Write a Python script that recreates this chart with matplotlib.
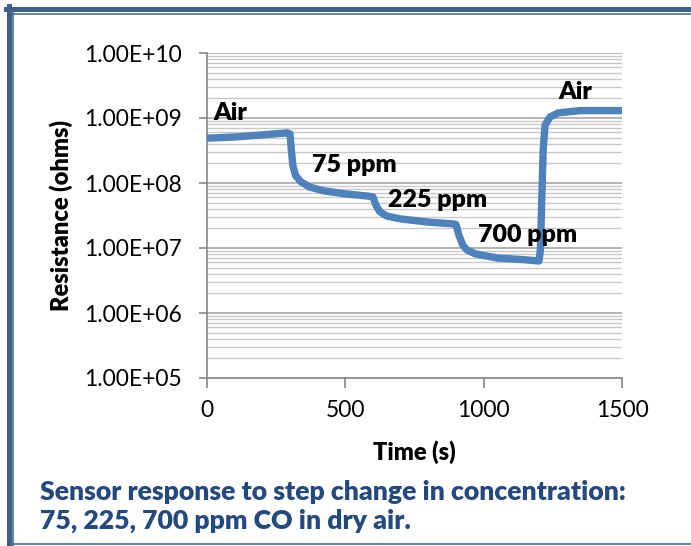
import matplotlib.pyplot as plt
import numpy as np
from matplotlib.lines import Line2D
from matplotlib.ticker import FuncFormatter, LogLocator

plt.rcParams['font.family'] = ['Lato', 'DejaVu Sans']

# Lecture du graphique (temps en s, resistance en ohms)
time_s = [0, 100, 200, 290, 300, 305, 310, 320, 340, 370, 420, 500, 580, 600,
          610, 625, 650, 700, 800, 890, 900, 910, 925, 940, 970, 1050, 1150,
          1200, 1205, 1210, 1215, 1222, 1240, 1270, 1350, 1500]
resistance = [4.9e8, 5.1e8, 5.5e8, 5.9e8, 5.7e8, 3.2e8, 1.9e8, 1.3e8, 1.04e8,
              8.7e7, 7.6e7, 6.8e7, 6.3e7, 6.1e7, 4.6e7, 3.6e7, 3.1e7, 2.8e7,
              2.5e7, 2.35e7, 2.3e7, 1.6e7, 1.1e7, 9.3e6, 8.1e6, 7.0e6, 6.6e6,
              6.3e6, 9.3e6, 5.5e7, 3.2e8, 7.8e8, 1.04e9, 1.2e9, 1.3e9, 1.3e9]

labels = ['Air', '75 ppm', '225 ppm', '700 ppm', 'Air']
label_t = [22, 380, 654, 980, 1269]
label_r = [1.2e9, 1.9e8, 5.5e7, 1.6e7, 2.5e9]

x_ticks = [0, 500, 1000, 1500]

W, H = 691, 546
fig = plt.figure(figsize=(W / 100, H / 100), dpi=100)
ax = fig.add_axes([207 / W, 1 - 378 / H, 415 / W, 325 / H])

ax.plot(time_s, resistance, '-', color='#4F81BD', lw=5.3, solid_capstyle='round',
        solid_joinstyle='round', zorder=3)

ax.set_yscale('log')
ax.set_ylim(1e5, 1e10)
ax.set_xlim(0, 1500)
ax.set_xticks(x_ticks)
ax.yaxis.set_major_locator(LogLocator(base=10, numticks=10))
ax.yaxis.set_minor_locator(LogLocator(base=10, subs=np.arange(2, 10), numticks=20))
ax.yaxis.set_major_formatter(FuncFormatter(lambda v, p: '%.2E' % v))

ax.grid(True, which='major', axis='y', color='#A6A6A6', lw=1.2)
ax.grid(True, which='minor', axis='y', color='#C8C8C8', lw=1)
ax.set_axisbelow(True)

for s in ['top', 'right']:
    ax.spines[s].set_visible(False)
for s in ['left', 'bottom']:
    ax.spines[s].set_color('#868686')
    ax.spines[s].set_linewidth(1.2)

ax.tick_params(axis='both', which='major', direction='out', color='#868686',
               width=1.2, labelsize=16.5, pad=12)
ax.tick_params(axis='y', which='major', length=6)
ax.tick_params(axis='x', which='major', length=7, pad=9)
ax.tick_params(axis='y', which='minor', length=0)

ax.set_xlabel('Time (s)', fontsize=17, fontweight='heavy', labelpad=14)
ax.set_ylabel('Resistance (ohms)', fontsize=17, fontweight='heavy', labelpad=8)

for txt, t, r in zip(labels, label_t, label_r):
    ax.text(t, r, txt, fontsize=18, fontweight='heavy', va='center', ha='left',
            zorder=4)

# legende sous le graphique
fig.text(40 / W, 1 - 492 / H, 'Sensor response to step change in concentration:',
         fontsize=19.2, fontweight='heavy', color='#24497E', va='center')
fig.text(40 / W, 1 - 521 / H, '75, 225, 700 ppm CO in dry air.',
         fontsize=19.2, fontweight='heavy', color='#24497E', va='center')

# cadre
frame = '#3F5F8F'
fig.add_artist(Line2D([8.5 / W, 8.5 / W], [0, 1 - 6 / H], color=frame, lw=3.6,
                      transform=fig.transFigure))
fig.add_artist(Line2D([6 / W, 1], [1 - 8.5 / H, 1 - 8.5 / H], color=frame, lw=3.6,
                      transform=fig.transFigure))
fig.add_artist(Line2D([13.5 / W, 13.5 / W], [0, 1 - 13 / H], color=frame, lw=1.1,
                      transform=fig.transFigure))
fig.add_artist(Line2D([13 / W, 1], [1 - 13.5 / H, 1 - 13.5 / H], color=frame, lw=1.1,
                      transform=fig.transFigure))
fig.add_artist(Line2D([13 / W, 1], [1 - 543.5 / H, 1 - 543.5 / H], color=frame, lw=1.1,
                      transform=fig.transFigure))

fig.savefig('out.png', dpi=100)
